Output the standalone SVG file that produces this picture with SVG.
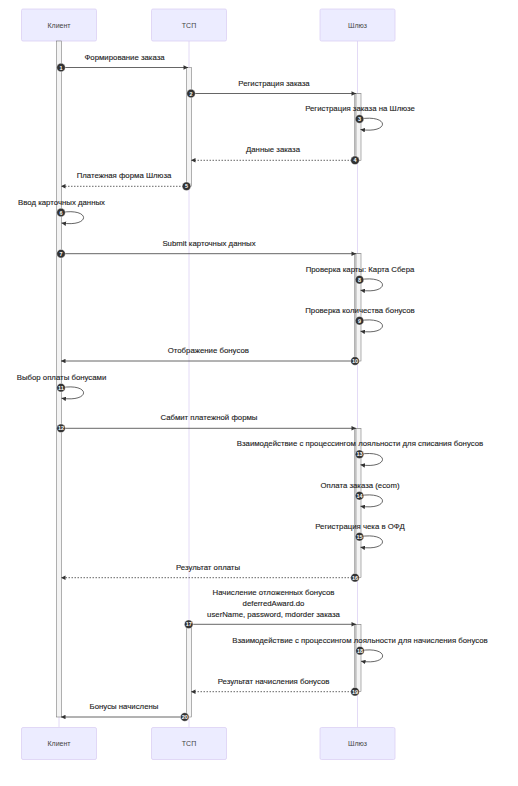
<svg xmlns="http://www.w3.org/2000/svg" width="518" height="786" viewBox="0 0 518 786">
<defs>
<style>
.actor{fill:#ECECFF;stroke:#DACEF3;stroke-width:0.75}
.atext{font-family:"Liberation Sans",Arial,sans-serif;font-size:7px;fill:#444;text-anchor:middle}
.life{stroke:#DACEF3;stroke-width:0.75}
.act{fill:#f4f4f4;stroke:#666;stroke-width:0.5}
.act2{fill:#e0e0e0;stroke:#777;stroke-width:0.5}
.msg{fill:none;stroke:#333;stroke-width:0.75;marker-end:url(#arrow)}
.dot{stroke-dasharray:1.5,1.5}
.lbl{font-family:"Liberation Sans",Arial,sans-serif;font-size:7.8px;fill:#222;text-anchor:middle;stroke:#222;stroke-width:0.12}
.num circle{fill:#333;stroke:#fff;stroke-width:0.4}
.num text{font-family:"Liberation Sans",Arial,sans-serif;font-size:5.5px;fill:#fff;text-anchor:middle;font-weight:bold}
</style>
<marker id="arrow" viewBox="0 0 10 10" markerUnits="userSpaceOnUse" markerWidth="5" markerHeight="4.5" refX="10" refY="5" orient="auto">
<path d="M0,0 L10,5 L0,10 z" fill="#333"/>
</marker>
</defs>
<rect width="518" height="786" fill="#fff"/>

<g id="lifelines">
<line class="life" x1="59" y1="41" x2="59" y2="727"/>
<line class="life" x1="189" y1="41" x2="189" y2="727"/>
<line class="life" x1="357.5" y1="41" x2="357.5" y2="727"/>
</g>

<g id="actor-client">
<rect class="actor" x="21.5" y="9" width="75" height="32" rx="1.5"/>
<text class="atext" x="59" y="27.5">Клиент</text>
</g>
<g id="actor-tsp">
<rect class="actor" x="151.5" y="9" width="75" height="32" rx="1.5"/>
<text class="atext" x="189" y="27.5">ТСП</text>
</g>
<g id="actor-gateway">
<rect class="actor" x="320" y="9" width="75" height="32" rx="1.5"/>
<text class="atext" x="357.5" y="27.5">Шлюз</text>
</g>
<g id="actor-client-bottom">
<rect class="actor" x="21.5" y="727.5" width="75" height="32" rx="1.5"/>
<text class="atext" x="59" y="746">Клиент</text>
</g>
<g id="actor-tsp-bottom">
<rect class="actor" x="151.5" y="727.5" width="75" height="32" rx="1.5"/>
<text class="atext" x="189" y="746">ТСП</text>
</g>
<g id="actor-gateway-bottom">
<rect class="actor" x="320" y="727.5" width="75" height="32" rx="1.5"/>
<text class="atext" x="357.5" y="746">Шлюз</text>
</g>

<g id="activations">
<rect class="act" x="56.5" y="41" width="5" height="676"/>
<rect class="act" x="186.5" y="67.5" width="5" height="118.8"/>
<rect class="act" x="186.5" y="624.3" width="5" height="92.7"/>
<rect class="act2" x="354.5" y="93.5" width="5" height="66.8"/>
<rect class="act" x="356" y="93.5" width="5" height="66.8"/>
<rect class="act2" x="354.5" y="253.7" width="5" height="107.3"/>
<rect class="act" x="356" y="253.7" width="5" height="107.3"/>
<rect class="act2" x="354.5" y="428.3" width="5" height="149.4"/>
<rect class="act" x="356" y="428.3" width="5" height="149.4"/>
<rect class="act2" x="354.5" y="624.3" width="5" height="67.4"/>
<rect class="act" x="356" y="624.3" width="5" height="67.4"/>
</g>

<g id="connectors">
<path class="msg" d="M61,67.5 H188"/>
<path class="msg" d="M191,93.5 H356"/>
<path class="msg" d="M359.5,119 C390,114 390,134 360.5,129.5"/>
<path class="msg dot" d="M355,160.3 H191"/>
<path class="msg dot" d="M186.5,186.3 H61"/>
<path class="msg" d="M61,212.5 C91,207.5 91,227.5 61.5,223"/>
<path class="msg" d="M61,253.7 H356"/>
<path class="msg" d="M359.5,279.7 C390,274.7 390,294.7 360.5,290.2"/>
<path class="msg" d="M359.5,320.7 C390,315.7 390,335.7 360.5,331.2"/>
<path class="msg" d="M355,361 H61"/>
<path class="msg" d="M61,387.7 C91,382.7 91,402.7 61.5,398.2"/>
<path class="msg" d="M61,428.3 H356"/>
<path class="msg" d="M359.5,454.3 C390,449.3 390,469.3 360.5,464.8"/>
<path class="msg" d="M359.5,495.7 C390,490.7 390,510.7 360.5,506.2"/>
<path class="msg" d="M359.5,536.7 C390,531.7 390,551.7 360.5,547.2"/>
<path class="msg dot" d="M355,577.7 H61"/>
<path class="msg" d="M188.7,624.3 H356"/>
<path class="msg" d="M360,650.7 C390,645.7 390,665.7 361,661.2"/>
<path class="msg dot" d="M355,691.7 H191"/>
<path class="msg" d="M184.7,717 H61"/>

<g class="num">
<circle cx="61" cy="67.5" r="4.3"/><text x="61" y="69.5">1</text>
<circle cx="191" cy="93.5" r="4.3"/><text x="191" y="95.5">2</text>
<circle cx="359.5" cy="119" r="4.3"/><text x="359.5" y="121">3</text>
<circle cx="355" cy="160.3" r="4.3"/><text x="355" y="162.3">4</text>
<circle cx="186.5" cy="186.3" r="4.3"/><text x="186.5" y="188.3">5</text>
<circle cx="61" cy="212.5" r="4.3"/><text x="61" y="214.5">6</text>
<circle cx="61" cy="253.7" r="4.3"/><text x="61" y="255.7">7</text>
<circle cx="359.5" cy="279.7" r="4.3"/><text x="359.5" y="281.7">8</text>
<circle cx="359.5" cy="320.7" r="4.3"/><text x="359.5" y="322.7">9</text>
<circle cx="355" cy="361" r="4.3"/><text x="355" y="363">10</text>
<circle cx="61" cy="387.7" r="4.3"/><text x="61" y="389.7">11</text>
<circle cx="61" cy="428.3" r="4.3"/><text x="61" y="430.3">12</text>
<circle cx="359.5" cy="454.3" r="4.3"/><text x="359.5" y="456.3">13</text>
<circle cx="359.5" cy="495.7" r="4.3"/><text x="359.5" y="497.7">14</text>
<circle cx="359.5" cy="536.7" r="4.3"/><text x="359.5" y="538.7">15</text>
<circle cx="355" cy="577.7" r="4.3"/><text x="355" y="579.7">16</text>
<circle cx="188.7" cy="624.3" r="4.3"/><text x="188.7" y="626.3">17</text>
<circle cx="360" cy="650.7" r="4.3"/><text x="360" y="652.7">18</text>
<circle cx="355" cy="691.7" r="4.3"/><text x="355" y="693.7">19</text>
<circle cx="184.7" cy="717" r="4.3"/><text x="184.7" y="719">20</text>
</g>

<g id="labels">
<text class="lbl" x="124.5" y="59.5">Формирование заказа</text>
<text class="lbl" x="274" y="85.5">Регистрация заказа</text>
<text class="lbl" x="360" y="111">Регистрация заказа на Шлюзе</text>
<text class="lbl" x="273" y="152.3">Данные заказа</text>
<text class="lbl" x="124" y="178.3">Платежная форма Шлюза</text>
<text class="lbl" x="61.5" y="204.5">Ввод карточных данных</text>
<text class="lbl" x="209" y="245.7">Submit карточных данных</text>
<text class="lbl" x="360" y="271.7">Проверка карты: Карта Сбера</text>
<text class="lbl" x="360" y="312.7">Проверка количества бонусов</text>
<text class="lbl" x="208.3" y="353">Отображение бонусов</text>
<text class="lbl" x="61.5" y="379.7">Выбор оплаты бонусами</text>
<text class="lbl" x="209" y="420.3">Сабмит платежной формы</text>
<text class="lbl" x="360" y="446.3">Взаимодействие с процессингом лояльности для списания бонусов</text>
<text class="lbl" x="360" y="487.7">Оплата заказа (ecom)</text>
<text class="lbl" x="360" y="528.7">Регистрация чека в ОФД</text>
<text class="lbl" x="208" y="569.7">Результат оплаты</text>
<text class="lbl" x="273.5" y="595.3">Начисление отложенных бонусов</text>
<text class="lbl" x="273.5" y="606">deferredAward.do</text>
<text class="lbl" x="273.5" y="616.8">userName, password, mdorder заказа</text>
<text class="lbl" x="360" y="642.7">Взаимодействие с процессингом лояльности для начисления бонусов</text>
<text class="lbl" x="273.5" y="683.7">Результат начисления бонусов</text>
<text class="lbl" x="124" y="709.3">Бонусы начислены</text>
</g>
</g>
</svg>
